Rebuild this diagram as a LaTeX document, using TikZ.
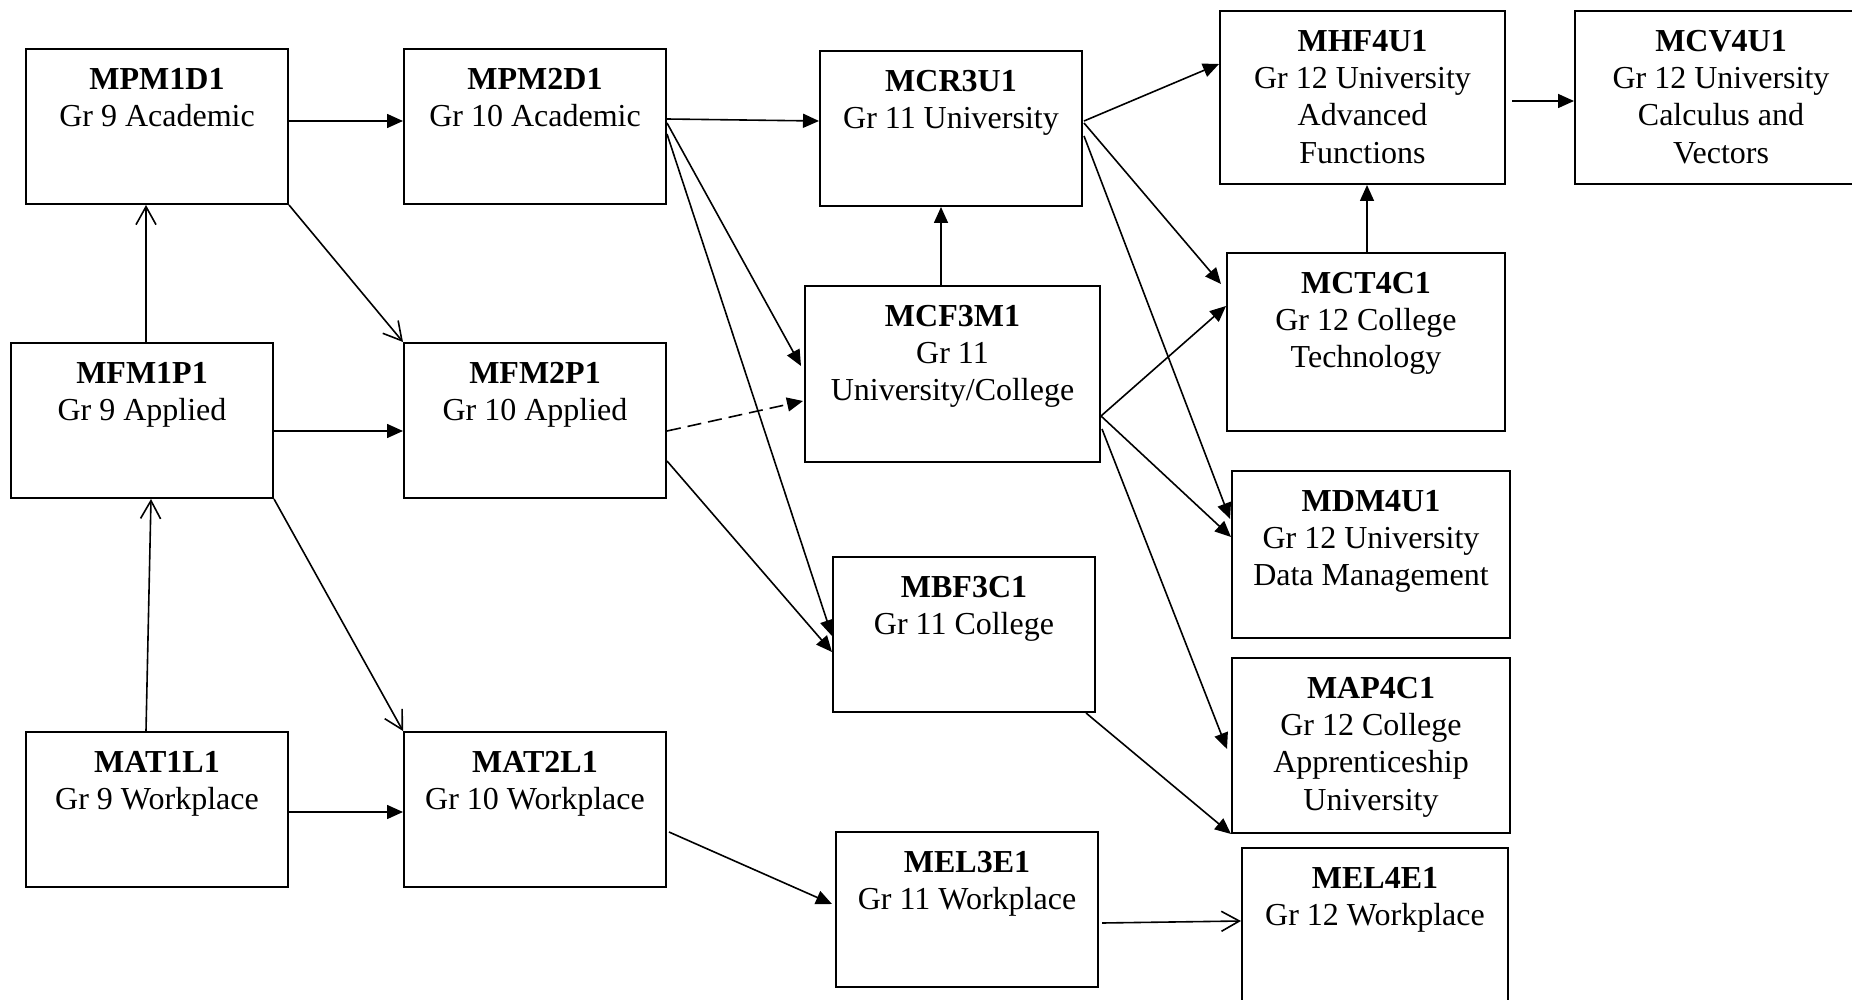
\documentclass[tikz,border=0pt]{standalone}
\usepackage{fontspec}
\setmainfont{Liberation Serif}
\usetikzlibrary{arrows.meta,calc,fit}
\tikzset{
  cbox/.style={draw, line width=1pt, inner sep=0pt, rectangle},
  ctext/.style={align=center, inner sep=0pt, anchor=north, font=\fontsize{16}{18.6}\selectfont},
  fa/.style={line width=0.8pt, -{Triangle[length=8pt,width=7pt]}},
  oa/.style={line width=0.8pt, -{Straight Barb[length=9pt,width=10pt]}},
  da/.style={fa, dash pattern=on 7pt off 3.5pt},
}
\newcommand\coursebox[6]{%
  \node[cbox, fit={(#2,#3) (#4,#5)}] (#1) {};
  \node[ctext] (#1-t) at ([yshift=-10pt]#1.north) {#6};
}
\begin{document}
\begin{tikzpicture}[x=0.5pt,y=-0.5pt]
\useasboundingbox (0,0) rectangle (1852,1000);
\fill[white] (0,0) rectangle (1852,1000);
\clip (0,0) rectangle (1852,1000);

\coursebox{mpm1}{26}{49}{288}{204}{\textbf{MPM1D1}\\Gr 9 Academic}
\coursebox{mpm2}{404}{49}{666}{204}{\textbf{MPM2D1}\\Gr 10 Academic}
\coursebox{mfm1}{11}{343}{273}{498}{\textbf{MFM1P1}\\Gr 9 Applied}
\coursebox{mfm2}{404}{343}{666}{498}{\textbf{MFM2P1}\\Gr 10 Applied}
\coursebox{mat1}{26}{732}{288}{887}{\textbf{MAT1L1}\\Gr 9 Workplace}
\coursebox{mat2}{404}{732}{666}{887}{\textbf{MAT2L1}\\Gr 10 Workplace}
\coursebox{mcr3}{820}{51}{1082}{206}{\textbf{MCR3U1}\\Gr 11 University}
\coursebox{mcf3}{805}{286}{1100}{462}{\textbf{MCF3M1}\\Gr 11\\University/College}
\coursebox{mbf3}{833}{557}{1095}{712}{\textbf{MBF3C1}\\Gr 11 College}
\coursebox{mel3}{836}{832}{1098}{987}{\textbf{MEL3E1}\\Gr 11 Workplace}
\coursebox{mhf4}{1220}{11}{1505}{184}{\textbf{MHF4U1}\\Gr 12 University\\Advanced\\Functions}
\coursebox{mcv4}{1575}{11}{1867}{184}{\textbf{MCV4U1}\\Gr 12 University\\Calculus and\\Vectors}
\coursebox{mct4}{1227}{253}{1505}{431}{\textbf{MCT4C1}\\Gr 12 College\\Technology}
\coursebox{mdm4}{1232}{471}{1510}{638}{\textbf{MDM4U1}\\Gr 12 University\\Data Management}
\coursebox{map4}{1232}{658}{1510}{833}{\textbf{MAP4C1}\\Gr 12 College\\Apprenticeship\\University}
\coursebox{mel4}{1242}{848}{1508}{1012}{\textbf{MEL4E1}\\Gr 12 Workplace}

% grade 9 -> grade 10
\draw[fa] ($(mpm1.north east)+(0,73)$) -- ($(mpm2.north west)+(0,73)$);
\draw[fa] ($(mfm1.north east)+(0,89)$) -- ($(mfm2.north west)+(0,89)$);
\draw[fa] ($(mat1.north east)+(0,81)$) -- ($(mat2.north west)+(0,81)$);
\draw[oa] ($(mfm1.north west)+(136,0)$) -- ($(mpm1.south west)+(121,0)$);
\draw[oa] ($(mat1.north west)+(121,0)$) -- ($(mfm1.south west)+(141,0)$);
\draw[oa] (mpm1.south east) -- (mfm2.north west);
\draw[oa] (mfm1.south east) -- (mat2.north west);

% grade 10 -> grade 11
\draw[fa] ($(mpm2.north east)+(0,71)$) -- ($(mcr3.north west)+(0,71)$);
\draw[fa] ($(mpm2.north east)+(0,75)$) -- ($(mcf3.north west)+(-3,81)$);
\draw[fa] ($(mpm2.north east)+(0,86)$) -- ($(mbf3.north west)+(0,80)$);
\draw[da] ($(mfm2.north east)+(0,89)$) -- ($(mcf3.north west)+(-1,116)$);
\draw[fa] ($(mfm2.north east)+(0,119)$) -- ($(mbf3.north west)+(0,96)$);
\draw[fa] ($(mat2.north east)+(2,101)$) -- ($(mel3.north west)+(-3,73)$);
\draw[fa] ($(mcf3.north west)+(137,0)$) -- ($(mcr3.south west)+(122,0)$);

% grade 11 -> grade 12
\draw[fa] ($(mcr3.north east)+(1,71)$) -- ($(mhf4.north west)+(0,54)$);
\draw[fa] ($(mcr3.north east)+(1,73)$) -- ($(mct4.north west)+(-5,32)$);
\draw[fa] ($(mcr3.north east)+(1,86)$) -- ($(mdm4.north west)+(-1,49)$);
\draw[fa] ($(mcf3.north east)+(0,131)$) -- ($(mct4.north west)+(0,54)$);
\draw[fa] ($(mcf3.north east)+(0,131)$) -- ($(mdm4.north west)+(0,67)$);
\draw[fa] ($(mcf3.north east)+(1,144)$) -- ($(map4.north west)+(-4,92)$);
\draw[fa] ($(mbf3.south east)+(-10,0)$) -- (map4.south west);
\draw[oa] ($(mel3.north east)+(3,92)$) -- ($(mel4.north west)+(0,74)$);

% grade 12
\draw[fa] ($(mhf4.north east)+(6,91)$) -- ($(mcv4.north west)+(0,91)$);
\draw[fa] ($(mct4.north west)+(141,0)$) -- ($(mhf4.south west)+(148,0)$);
\end{tikzpicture}
\end{document}
